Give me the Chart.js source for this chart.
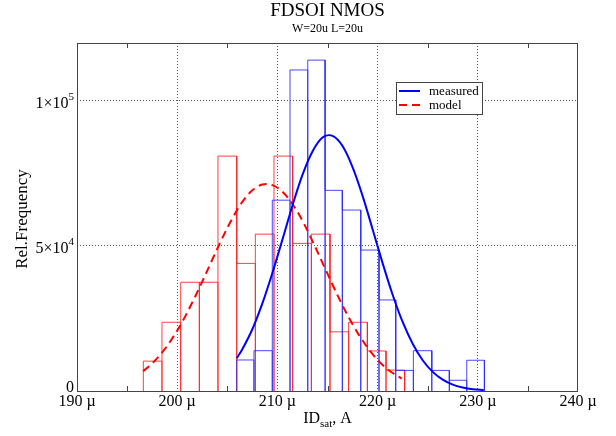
<!DOCTYPE html>
<html>
<head>
<meta charset="utf-8">
<script src="https://cdn.jsdelivr.net/npm/chart.js@4/dist/chart.umd.min.js"></script>
<style>
  html, body { margin: 0; padding: 0; background: #ffffff; }
  #wrap { width: 616px; height: 436px; position: relative; }
</style>
</head>
<body>
<div id="wrap"><canvas id="c" width="616" height="436"></canvas></div>
<script>
// ---- data ----
const xTickValues = [190, 200, 210, 220, 230, 240];
const xMinorTicks = [195, 205, 215, 225, 235];
const yTickValues = [0, 50000, 100000];
const yTickMantissa = ['0', '5×10', '1×10'];
const yTickExponent = ['', '4', '5'];

// model histogram (red)
const modelEdges = [196.62, 198.48, 200.35, 202.21, 204.07, 205.94, 207.80, 209.66, 211.52, 213.39, 215.25, 217.11, 218.98, 220.84, 222.70];
const modelCounts = [10300, 23700, 37500, 37500, 81000, 44000, 54100, 81000, 50900, 54100, 20400, 23700, 13800, 7200];

// measured histogram (blue)
const measuredEdges = [205.94, 207.66, 209.49, 211.26, 213.03, 214.76, 216.48, 218.32, 220.14, 221.81, 223.57, 225.41, 227.16, 228.90, 230.66];
const measuredCounts = [10700, 13900, 65800, 110700, 114100, 69200, 62400, 48600, 31400, 7100, 13900, 7100, 3700, 10600];

// model curve (red dashed)
const modelCurveX = [196.6, 197.5, 198.5, 199.5, 200.5, 201.5, 202.5, 203.5, 204.5, 205.5, 206.5, 207.5, 208.5, 209.5, 210.5, 211.5, 212.5, 213.5, 214.5, 215.5, 216.5, 217.5, 218.5, 219.5, 220.5, 221.5, 222.4];
const modelCurveY = [6800, 9500, 13300, 18100, 23800, 30500, 37700, 45300, 52700, 59500, 65200, 69200, 71200, 71000, 68700, 64500, 58700, 51700, 44200, 36700, 29500, 23000, 17400, 12700, 9000, 6200, 4300];

// measured curve (blue solid)
const measuredCurveX = [205.94, 206.5, 207.5, 208.5, 209.5, 210.5, 211.5, 212.5, 213.5, 214.5, 215.5, 216.5, 217.5, 218.5, 219.5, 220.5, 221.5, 222.5, 223.5, 224.5, 225.5, 226.5, 227.5, 228.5, 229.5, 230.6];
const measuredCurveY = [11300, 14400, 21300, 30200, 40700, 52200, 63900, 74500, 82600, 87400, 88000, 84500, 77200, 67300, 55800, 44100, 33200, 23800, 16300, 10600, 6600, 3900, 2200, 1200, 600, 300];

// ---- build outline histogram paths from edges & counts ----
function histPath(edges, counts) {
  const pts = [];
  for (let i = 0; i < counts.length; i++) {
    pts.push({x: edges[i], y: 0});
    pts.push({x: edges[i], y: counts[i]});
    pts.push({x: edges[i + 1], y: counts[i]});
    pts.push({x: edges[i + 1], y: 0});
  }
  return pts;
}
function zipXY(xs, ys) { return xs.map((x, i) => ({x: x, y: ys[i]})); }

const SERIF = '"Liberation Serif", "Times New Roman", serif';

const decorPlugin = {
  id: 'decor',
  afterDraw(chart) {
    const ctx = chart.ctx;
    const a = chart.chartArea;
    const xs = chart.scales.x, ys = chart.scales.y;
    ctx.save();
    // frame
    ctx.strokeStyle = '#444';
    ctx.lineWidth = 1;
    ctx.strokeRect(Math.round(a.left) + 0.5, Math.round(a.top) + 0.5, Math.round(a.right - a.left) - 1, Math.round(a.bottom - a.top));
    // inward minor ticks on x (top & bottom)
    ctx.beginPath();
    xMinorTicks.forEach(v => {
      const px = Math.round(xs.getPixelForValue(v)) + 0.5;
      ctx.moveTo(px, a.bottom); ctx.lineTo(px, a.bottom - 5);
      ctx.moveTo(px, a.top); ctx.lineTo(px, a.top + 5);
    });
    ctx.stroke();

    ctx.fillStyle = '#000';
    // y tick labels with superscripts
    yTickValues.forEach((v, i) => {
      const py = ys.getPixelForValue(v);
      const exp = yTickExponent[i];
      ctx.font = '11px ' + SERIF;
      const ew = exp ? ctx.measureText(exp).width : 0;
      ctx.font = '16px ' + SERIF;
      ctx.textAlign = 'right';
      ctx.textBaseline = 'middle';
      const rx = a.left - 3;
      const yy = (v === 0) ? py - 3 : py + 3;
      ctx.fillText(yTickMantissa[i], rx - ew, yy);
      if (exp) {
        ctx.font = '11px ' + SERIF;
        ctx.textAlign = 'left';
        ctx.fillText(exp, rx - ew, yy - 7);
      }
    });

    // y axis title
    ctx.save();
    ctx.translate(23, (a.top + a.bottom) / 2 + 2);
    ctx.rotate(-Math.PI / 2);
    ctx.font = '17px ' + SERIF;
    ctx.textAlign = 'center';
    ctx.textBaseline = 'middle';
    ctx.fillText('Rel.Frequency', 0, 0);
    ctx.restore();

    // x axis title: ID_sat, A
    ctx.textBaseline = 'middle';
    ctx.textAlign = 'left';
    const p1 = 'ID', p2 = 'sat', p3 = ', A';
    ctx.font = '16px ' + SERIF; const w1 = ctx.measureText(p1).width; const w3 = ctx.measureText(p3).width;
    ctx.font = '11px ' + SERIF; const w2 = ctx.measureText(p2).width;
    const cx = (a.left + a.right) / 2;
    let sx = cx - (w1 + w2 + w3) / 2;
    const ty = 419;
    ctx.font = '16px ' + SERIF; ctx.fillText(p1, sx, ty); sx += w1;
    ctx.font = '11px ' + SERIF; ctx.fillText(p2, sx, ty + 5); sx += w2;
    ctx.font = '16px ' + SERIF; ctx.fillText(p3, sx, ty);

    // title & subtitle
    ctx.textAlign = 'center';
    ctx.font = '19px ' + SERIF;
    ctx.fillText('FDSOI NMOS', cx, 11);
    ctx.font = '12px ' + SERIF;
    ctx.fillText('W=20u L=20u', cx, 29);

    // legend box
    const lx = 396, ly = 82, lw = 86, lh = 32;
    ctx.fillStyle = '#fff';
    ctx.fillRect(lx, ly, lw, lh);
    ctx.strokeStyle = '#444';
    ctx.lineWidth = 1;
    ctx.strokeRect(lx + 0.5, ly + 0.5, lw, lh);
    ctx.lineWidth = 2;
    ctx.strokeStyle = '#0000ff';
    ctx.beginPath(); ctx.moveTo(lx + 3, ly + 9); ctx.lineTo(lx + 24, ly + 9); ctx.stroke();
    ctx.strokeStyle = '#ff0000';
    ctx.setLineDash([8, 5]);
    ctx.beginPath(); ctx.moveTo(lx + 3, ly + 23); ctx.lineTo(lx + 24, ly + 23); ctx.stroke();
    ctx.setLineDash([]);
    ctx.fillStyle = '#000';
    ctx.font = '13px ' + SERIF;
    ctx.textAlign = 'left';
    ctx.textBaseline = 'middle';
    ctx.fillText('measured', lx + 33, ly + 10);
    ctx.fillText('model', lx + 33, ly + 24);
    ctx.restore();
  }
};

new Chart(document.getElementById('c'), {
  type: 'line',
  data: {
    datasets: [
      { label: 'measured', data: zipXY(measuredCurveX, measuredCurveY), borderColor: '#0000ff', borderWidth: 2, pointRadius: 0, tension: 0.35, order: 0 },
      { label: 'model', data: zipXY(modelCurveX, modelCurveY), borderColor: '#ff0000', borderWidth: 2, borderDash: [8, 5], pointRadius: 0, tension: 0.35, order: 1 },
      { label: 'measured hist', data: histPath(measuredEdges, measuredCounts), borderColor: 'rgba(40,40,255,0.85)', borderWidth: 1, pointRadius: 0, tension: 0, order: 2 },
      { label: 'model hist', data: histPath(modelEdges, modelCounts), borderColor: 'rgba(255,30,30,0.85)', borderWidth: 1, pointRadius: 0, tension: 0, order: 3 }
    ]
  },
  options: {
    responsive: false,
    animation: false,
    events: [],
    layout: { padding: { left: 0, right: 38, top: 43, bottom: 0 } },
    plugins: { legend: { display: false }, tooltip: { enabled: false }, title: { display: false } },
    scales: {
      x: {
        type: 'linear', min: 190, max: 240,
        afterBuildTicks: s => { s.ticks = xTickValues.map(v => ({ value: v })); },
        afterFit: s => { s.height = 45; },
        ticks: { callback: v => v + ' µ', color: '#000', font: { family: SERIF, size: 16 }, padding: 1, maxRotation: 0, autoSkip: false },
        grid: { drawTicks: false, color: c => (c.tick && (c.tick.value === 190 || c.tick.value === 240)) ? 'rgba(0,0,0,0)' : '#555', lineWidth: 1 },
        border: { display: false, dash: [1, 2] }
      },
      y: {
        type: 'linear', min: 0, max: 120000,
        afterBuildTicks: s => { s.ticks = yTickValues.map(v => ({ value: v })); },
        afterFit: s => { s.width = 77; },
        ticks: { display: false },
        grid: { drawTicks: false, color: c => (c.tick && c.tick.value === 0) ? 'rgba(0,0,0,0)' : '#555', lineWidth: 1 },
        border: { display: false, dash: [1, 2] }
      }
    }
  },
  plugins: [decorPlugin]
});
</script>
</body>
</html>
